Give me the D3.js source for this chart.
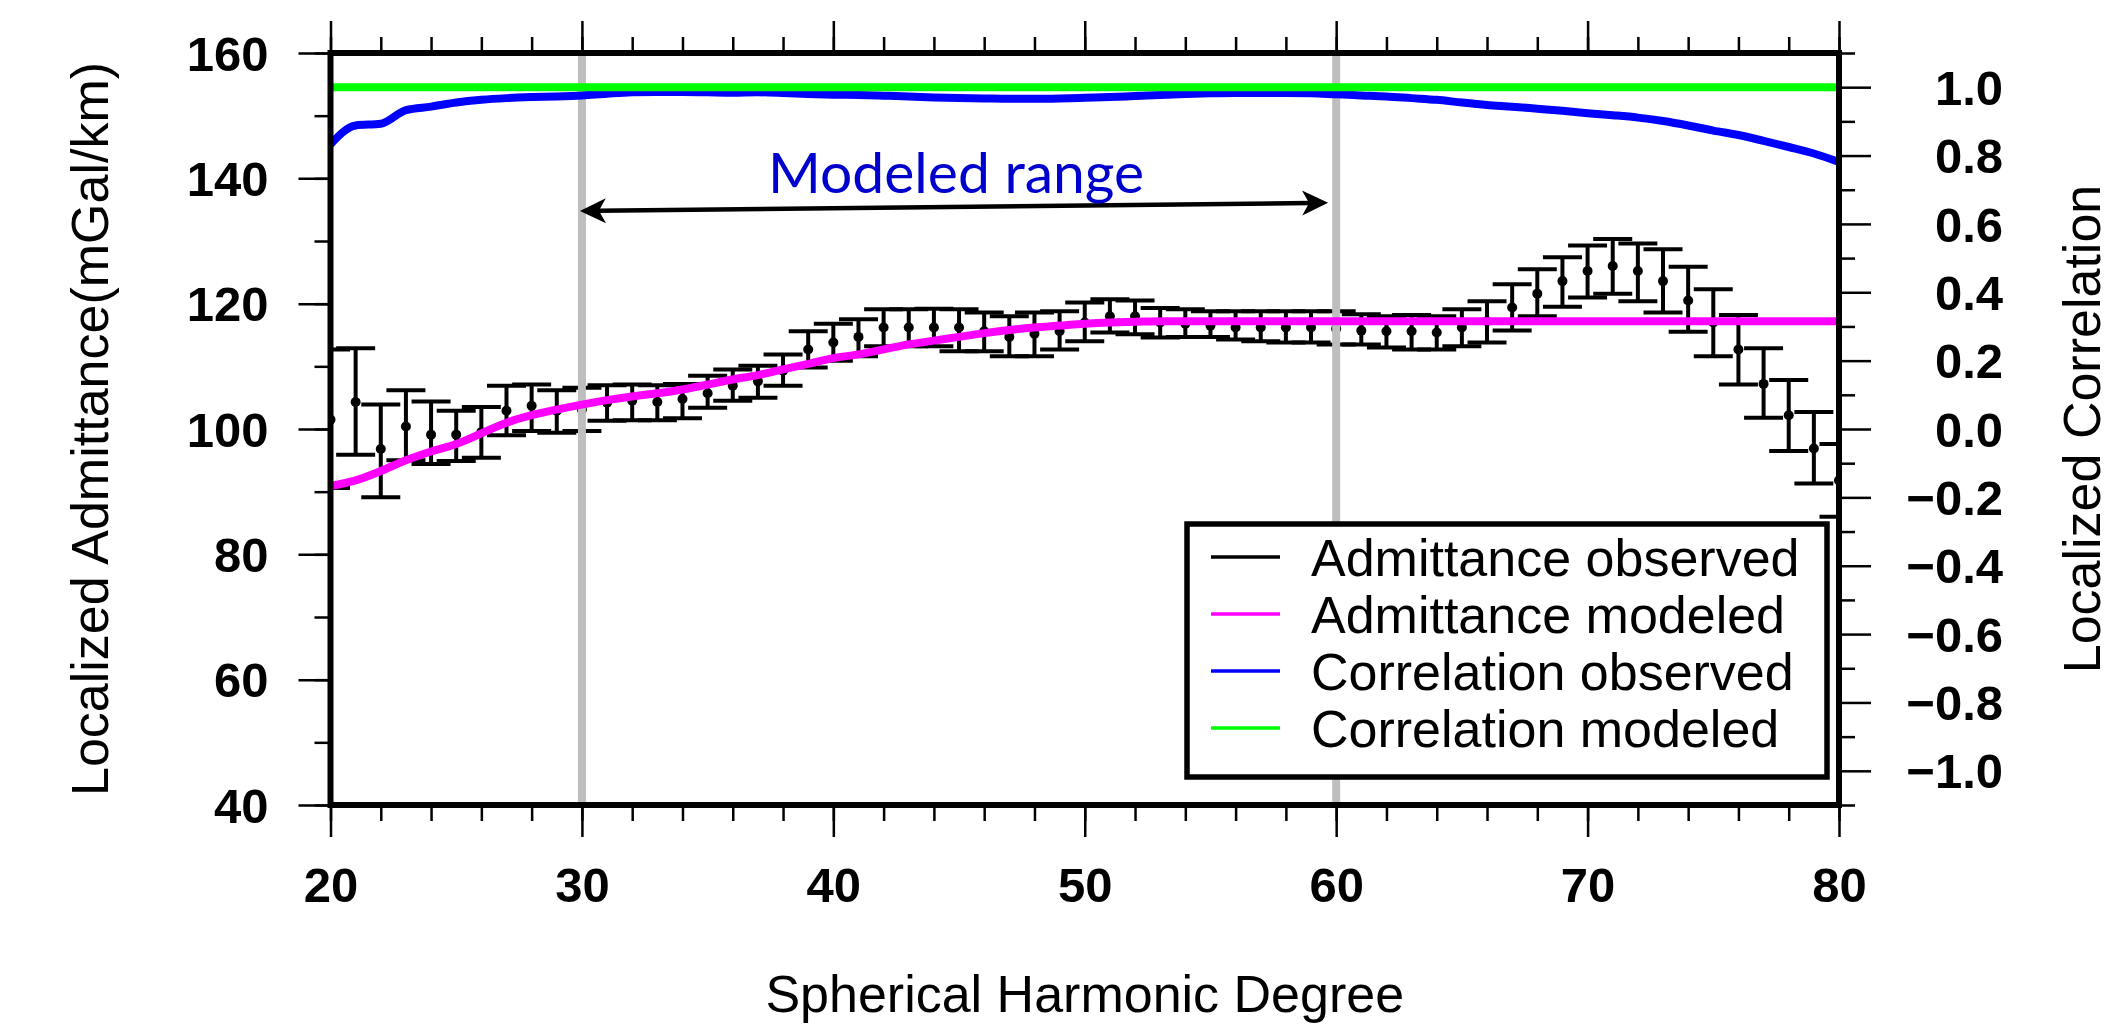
<!DOCTYPE html>
<html>
<head>
<meta charset="utf-8">
<script src="https://cdn.jsdelivr.net/npm/d3@7"></script>
<style>
  html, body { margin: 0; padding: 0; background: #ffffff; }
  svg { display: block; }
</style>
</head>
<body>
<svg id="chart" width="2113" height="1024"></svg>
<script>
// ---- Data: localized admittance / correlation per spherical harmonic degree ----
const degrees = [20, 21, 22, 23, 24, 25, 26, 27, 28, 29,
                 30, 31, 32, 33, 34, 35, 36, 37, 38, 39,
                 40, 41, 42, 43, 44, 45, 46, 47, 48, 49,
                 50, 51, 52, 53, 54, 55, 56, 57, 58, 59,
                 60, 61, 62, 63, 64, 65, 66, 67, 68, 69,
                 70, 71, 72, 73, 74, 75, 76, 77, 78, 79, 80];

// Observed admittance (mGal/km) and its error-bar limits
const admittanceObserved = [101.5, 104.3, 96.8, 100.4, 99.1, 99.1, 99.5, 102.9, 103.7, 102.9,
                            103.1, 104.2, 104.5, 104.3, 104.8, 105.7, 106.9, 107.6, 109.3, 112.7,
                            113.8, 114.7, 116.2, 116.2, 116.2, 116.2, 115.6, 114.7, 115.2, 115.6,
                            117.0, 118.0, 118.0, 117.0, 116.8, 116.5, 116.2, 116.2, 116.2, 116.2,
                            116.0, 115.7, 115.6, 115.6, 115.4, 116.2, 117.2, 119.4, 121.6, 123.6,
                            125.2, 126.0, 125.2, 123.6, 120.5, 117.0, 112.7, 107.2, 102.2, 96.9, 91.8];
const admittanceUpper = [112.7, 112.9, 103.9, 106.2, 104.4, 102.9, 103.5, 106.9, 107.1, 106.2,
                         106.6, 107.0, 107.1, 107.0, 107.2, 108.5, 109.5, 110.1, 111.9, 115.6,
                         116.8, 117.5, 119.1, 119.1, 119.2, 119.1, 118.6, 118.0, 118.6, 118.8,
                         120.2, 120.7, 120.5, 119.3, 119.1, 118.8, 118.8, 118.8, 118.8, 118.8,
                         118.8, 118.3, 118.0, 118.2, 118.0, 119.1, 120.4, 123.1, 125.5, 127.4,
                         129.3, 130.3, 129.6, 128.7, 125.9, 122.3, 118.2, 112.9, 107.8, 102.7, 97.6];
const admittanceLower = [90.6, 95.9, 89.1, 95.0, 94.4, 94.9, 95.4, 99.0, 99.7, 99.4,
                         99.7, 101.3, 101.4, 101.4, 101.7, 103.4, 104.5, 105.0, 106.9, 109.8,
                         110.9, 111.6, 113.2, 113.2, 113.2, 112.4, 112.4, 111.6, 111.6, 112.7,
                         114.0, 115.4, 115.1, 114.6, 114.7, 114.7, 114.3, 114.0, 113.8, 113.8,
                         113.5, 113.5, 113.0, 112.7, 112.7, 113.2, 113.8, 115.7, 118.0, 119.5,
                         121.0, 121.6, 120.4, 118.6, 115.5, 111.6, 107.1, 101.8, 96.5, 91.3, 86.0];

// Modeled admittance (mGal/km)
const admittanceModeled = [90.9, 91.8, 93.3, 95.0, 96.4, 97.6, 99.3, 101.0, 102.2, 103.1,
                           103.9, 104.6, 105.2, 105.7, 106.3, 107.1, 107.9, 108.6, 109.5, 110.4,
                           111.3, 111.9, 112.7, 113.5, 114.1, 114.7, 115.3, 115.8, 116.2, 116.5,
                           116.8, 117.0, 117.1, 117.2, 117.2, 117.2, 117.2, 117.2, 117.2, 117.2,
                           117.2, 117.2, 117.2, 117.2, 117.2, 117.2, 117.2, 117.2, 117.2, 117.2,
                           117.2, 117.2, 117.2, 117.2, 117.2, 117.2, 117.2, 117.2, 117.2, 117.2, 117.2];

// Observed and modeled correlation
const correlationObserved = [0.833, 0.888, 0.893, 0.933, 0.943, 0.955, 0.963, 0.968, 0.971, 0.973,
                             0.976, 0.981, 0.985, 0.986, 0.986, 0.985, 0.984, 0.985, 0.983, 0.980,
                             0.978, 0.977, 0.975, 0.973, 0.970, 0.968, 0.967, 0.966, 0.966, 0.967,
                             0.969, 0.971, 0.974, 0.977, 0.980, 0.982, 0.983, 0.983, 0.983, 0.982,
                             0.979, 0.976, 0.973, 0.968, 0.963, 0.955, 0.948, 0.943, 0.937, 0.931,
                             0.924, 0.918, 0.911, 0.901, 0.888, 0.873, 0.860, 0.843, 0.825, 0.806, 0.781];
const correlationModeled = [1.0, 1.0, 1.0, 1.0, 1.0, 1.0, 1.0, 1.0, 1.0, 1.0,
                            1.0, 1.0, 1.0, 1.0, 1.0, 1.0, 1.0, 1.0, 1.0, 1.0,
                            1.0, 1.0, 1.0, 1.0, 1.0, 1.0, 1.0, 1.0, 1.0, 1.0,
                            1.0, 1.0, 1.0, 1.0, 1.0, 1.0, 1.0, 1.0, 1.0, 1.0,
                            1.0, 1.0, 1.0, 1.0, 1.0, 1.0, 1.0, 1.0, 1.0, 1.0,
                            1.0, 1.0, 1.0, 1.0, 1.0, 1.0, 1.0, 1.0, 1.0, 1.0, 1.0];

// Axis ticks
const xTicks = [20, 30, 40, 50, 60, 70, 80];
const xMinorTicks = [20, 22, 24, 26, 28, 30, 32, 34, 36, 38, 40, 42, 44, 46, 48, 50,
                     52, 54, 56, 58, 60, 62, 64, 66, 68, 70, 72, 74, 76, 78, 80];
const admittanceTicks = [40, 60, 80, 100, 120, 140, 160];
const admittanceMinorTicks = [40, 50, 60, 70, 80, 90, 100, 110, 120, 130, 140, 150, 160];
const correlationTicks = [-1.0, -0.8, -0.6, -0.4, -0.2, 0.0, 0.2, 0.4, 0.6, 0.8, 1.0];
const correlationMinorTicks = [-1.1, -0.9, -0.7, -0.5, -0.3, -0.1, 0.1, 0.3, 0.5, 0.7, 0.9, 1.1];

// Modeled-range annotation (degrees) and its arrow (degree, admittance)
const modeledRange = [30, 60];
const arrowStart = [29.92, 134.8];
const arrowEnd = [59.68, 136.1];

// Legend entries
const legendLabels = ["Admittance observed", "Admittance modeled", "Correlation observed", "Correlation modeled"];
const legendColors = ["#000000", "#ff00ff", "#0000ff", "#00ff00"];

// ---- Layout ----
const plot = { left: 330.5, right: 1839, top: 53, bottom: 805 };
const tickFont = "'Liberation Sans', Arial, Helvetica, sans-serif";

const x = d3.scaleLinear().domain([20, 80]).range([plot.left, plot.right]);
const yAdm = d3.scaleLinear().domain([40, 160]).range([plot.bottom, plot.top]);
const yCor = d3.scaleLinear().domain([-1.1, 1.1]).range([plot.bottom, plot.top]);

const svg = d3.select("#chart");

svg.append("rect").attr("width", 2113).attr("height", 1024).attr("fill", "#ffffff");

svg.append("defs").append("clipPath").attr("id", "plot-clip")
  .append("rect")
  .attr("x", plot.left).attr("y", plot.top)
  .attr("width", plot.right - plot.left).attr("height", plot.bottom - plot.top);

const gData = svg.append("g").attr("clip-path", "url(#plot-clip)");

// Error bars for observed admittance
const obsRows = degrees.map((d, i) => ({
  d, v: admittanceObserved[i], hi: admittanceUpper[i], lo: admittanceLower[i]
}));
const capHalf = 19.5;
const barWidth = 4;
const bars = gData.append("g").attr("class", "errorbars")
  .selectAll("g").data(obsRows).join("g");
bars.append("line")
  .attr("x1", r => x(r.d)).attr("x2", r => x(r.d))
  .attr("y1", r => yAdm(r.hi)).attr("y2", r => yAdm(r.lo))
  .attr("stroke", "#000").attr("stroke-width", barWidth);
bars.append("line")
  .attr("x1", r => x(r.d) - capHalf).attr("x2", r => x(r.d) + capHalf)
  .attr("y1", r => yAdm(r.hi)).attr("y2", r => yAdm(r.hi))
  .attr("stroke", "#000").attr("stroke-width", barWidth);
bars.append("line")
  .attr("x1", r => x(r.d) - capHalf).attr("x2", r => x(r.d) + capHalf)
  .attr("y1", r => yAdm(r.lo)).attr("y2", r => yAdm(r.lo))
  .attr("stroke", "#000").attr("stroke-width", barWidth);
bars.append("circle")
  .attr("cx", r => x(r.d)).attr("cy", r => yAdm(r.v)).attr("r", 5)
  .attr("fill", "#000");

// Grey markers for the modeled degree range
gData.append("g").selectAll("line").data(modeledRange).join("line")
  .attr("x1", d => x(d)).attr("x2", d => x(d))
  .attr("y1", plot.top).attr("y2", plot.bottom)
  .attr("stroke", "#bebebe").attr("stroke-width", 8);

// Curves
const admLine = d3.line().x((d, i) => x(degrees[i])).y(d => yAdm(d)).curve(d3.curveMonotoneX);
const corLine = d3.line().x((d, i) => x(degrees[i])).y(d => yCor(d)).curve(d3.curveMonotoneX);

gData.append("path").datum(admittanceModeled)
  .attr("d", admLine).attr("fill", "none")
  .attr("stroke", "#ff00ff").attr("stroke-width", 8).attr("stroke-linejoin", "round");
gData.append("path").datum(correlationObserved)
  .attr("d", corLine).attr("fill", "none")
  .attr("stroke", "#0000ff").attr("stroke-width", 8).attr("stroke-linejoin", "round");
gData.append("path").datum(correlationModeled)
  .attr("d", corLine).attr("fill", "none")
  .attr("stroke", "#00ff00").attr("stroke-width", 8);

// ---- Axes ----
function styleAxis(g) {
  g.select(".domain").remove();
  g.selectAll(".tick line").attr("stroke", "#000").attr("stroke-width", 2.5);
  g.attr("font-family", tickFont).attr("font-size", 49).attr("font-weight", "bold");
  g.selectAll(".tick text").attr("fill", "#000");
}

// Minor ticks
svg.append("g").attr("transform", `translate(${plot.left},0)`)
  .call(d3.axisLeft(yAdm).tickValues(admittanceMinorTicks).tickSize(16).tickFormat(""))
  .call(styleAxis);
svg.append("g").attr("transform", `translate(${plot.right},0)`)
  .call(d3.axisRight(yCor).tickValues(correlationMinorTicks).tickSize(16).tickFormat(""))
  .call(styleAxis);
svg.append("g").attr("transform", `translate(0,${plot.bottom})`)
  .call(d3.axisBottom(x).tickValues(xMinorTicks).tickSize(16).tickFormat(""))
  .call(styleAxis);
svg.append("g").attr("transform", `translate(0,${plot.top})`)
  .call(d3.axisTop(x).tickValues(xMinorTicks).tickSize(16).tickFormat(""))
  .call(styleAxis);

// Major ticks with labels
svg.append("g").attr("transform", `translate(${plot.left},0)`)
  .call(d3.axisLeft(yAdm).tickValues(admittanceTicks).tickSize(32).tickPadding(30).tickFormat(d3.format("d")))
  .call(styleAxis)
  .call(g => g.selectAll(".tick text").attr("dy", "0.35em"));

svg.append("g").attr("transform", `translate(${plot.right},0)`)
  .call(d3.axisRight(yCor).tickValues(correlationTicks).tickSize(32).tickFormat(d3.format(".1f")))
  .call(styleAxis)
  .call(g => g.selectAll(".tick text").attr("text-anchor", "end").attr("x", 2003 - plot.right).attr("dy", "0.35em"));

svg.append("g").attr("transform", `translate(0,${plot.bottom})`)
  .call(d3.axisBottom(x).tickValues(xTicks).tickSize(32).tickPadding(30).tickFormat(d3.format("d")))
  .call(styleAxis);

svg.append("g").attr("transform", `translate(0,${plot.top})`)
  .call(d3.axisTop(x).tickValues(xTicks).tickSize(32).tickFormat(""))
  .call(styleAxis);

// Plot frame
svg.append("rect")
  .attr("x", plot.left).attr("y", plot.top)
  .attr("width", plot.right - plot.left).attr("height", plot.bottom - plot.top)
  .attr("fill", "none").attr("stroke", "#000").attr("stroke-width", 6);

// Axis titles
const titleFont = "'Liberation Sans', Arial, Helvetica, sans-serif";
svg.append("text")
  .attr("transform", `translate(108,${(plot.top + plot.bottom) / 2}) rotate(-90)`)
  .attr("text-anchor", "middle").attr("font-family", titleFont).attr("font-size", 52)
  .attr("fill", "#000").text("Localized Admittance(mGal/km)");
svg.append("text")
  .attr("transform", `translate(2100,${(plot.top + plot.bottom) / 2}) rotate(-90)`)
  .attr("text-anchor", "middle").attr("font-family", titleFont).attr("font-size", 52)
  .attr("fill", "#000").text("Localized Correlation");
svg.append("text")
  .attr("x", (plot.left + plot.right) / 2).attr("y", 1012)
  .attr("text-anchor", "middle").attr("font-family", titleFont).attr("font-size", 52)
  .attr("fill", "#000").text("Spherical Harmonic Degree");

// ---- Modeled range arrow and label ----
const p1 = [x(arrowStart[0]), yAdm(arrowStart[1])];
const p2 = [x(arrowEnd[0]), yAdm(arrowEnd[1])];
const len = Math.hypot(p2[0] - p1[0], p2[1] - p1[1]);
const ux = (p2[0] - p1[0]) / len, uy = (p2[1] - p1[1]) / len;
const ang = Math.atan2(p2[1] - p1[1], p2[0] - p1[0]) * 180 / Math.PI;
const inset = 18;
svg.append("line")
  .attr("x1", p1[0] + ux * inset).attr("y1", p1[1] + uy * inset)
  .attr("x2", p2[0] - ux * inset).attr("y2", p2[1] - uy * inset)
  .attr("stroke", "#000").attr("stroke-width", 4.5);
svg.append("path")
  .attr("d", "M0,0 L26,-12.5 L19,0 L26,12.5 Z")
  .attr("transform", `translate(${p1[0]},${p1[1]}) rotate(${ang})`)
  .attr("fill", "#000");
svg.append("path")
  .attr("d", "M0,0 L-26,-12.5 L-19,0 L-26,12.5 Z")
  .attr("transform", `translate(${p2[0]},${p2[1]}) rotate(${ang})`)
  .attr("fill", "#000");

svg.append("text")
  .attr("x", x((modeledRange[0] + modeledRange[1]) / 2) - 3)
  .attr("y", (p1[1] + p2[1]) / 2 - 14)
  .attr("text-anchor", "middle")
  .attr("font-family", "Lato, 'Open Sans', sans-serif").attr("font-size", 57)
  .attr("fill", "#0000cc").text("Modeled range");

// ---- Legend ----
const legend = svg.append("g").attr("class", "legend");
legend.append("rect")
  .attr("x", 1187).attr("y", 524).attr("width", 640).attr("height", 253)
  .attr("fill", "#ffffff").attr("stroke", "#000").attr("stroke-width", 5.5);
const rows = legend.selectAll("g.row").data(legendLabels).join("g")
  .attr("class", "row")
  .attr("transform", (d, i) => `translate(0,${557 + i * 57})`);
rows.append("line")
  .attr("x1", 1211).attr("x2", 1280).attr("y1", 0).attr("y2", 0)
  .attr("stroke", (d, i) => legendColors[i]).attr("stroke-width", 3.5);
rows.append("text")
  .attr("x", 1311).attr("y", 18.5)
  .attr("font-family", titleFont).attr("font-size", 52).attr("fill", "#000")
  .text(d => d);
</script>
</body>
</html>
